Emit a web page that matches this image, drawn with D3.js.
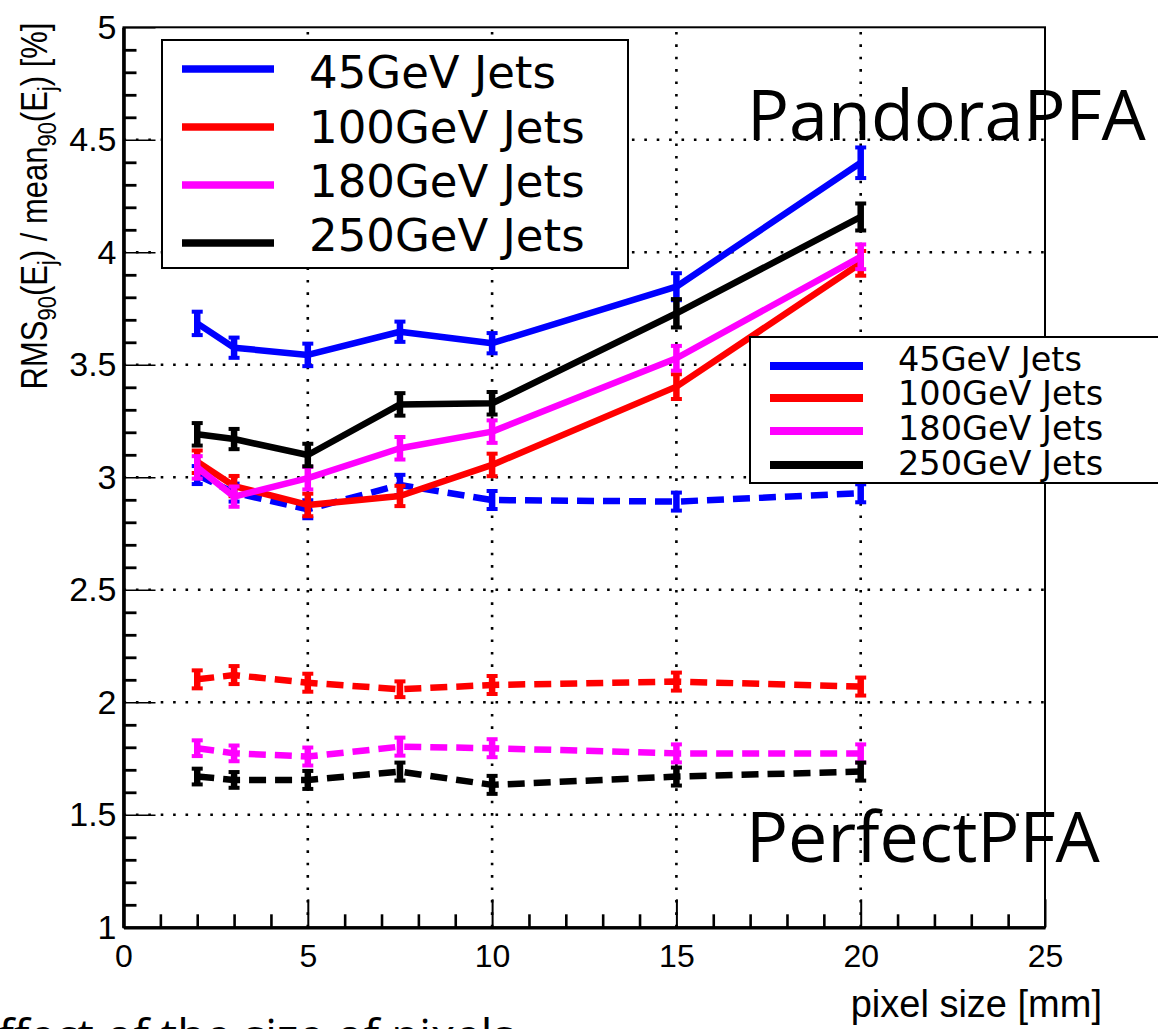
<!DOCTYPE html>
<html>
<head>
<meta charset="utf-8">
<script src="https://cdn.jsdelivr.net/npm/d3@7"></script>
<style>
  body { margin: 0; background: #fff; }
  svg { display: block; }
</style>
</head>
<body>
<svg id="chart" width="1158" height="1029"></svg>
<script>
// Jet energy resolution vs. pixel size, PandoraPFA (solid) and PerfectPFA (dashed)
const pixelSize = [2, 3, 5, 7.5, 10, 15, 20];

const pandora45  = [3.684, 3.576, 3.544, 3.647, 3.596, 3.847, 4.398];
const pandora100 = [3.069, 2.961, 2.877, 2.917, 3.055, 3.403, 3.951];
const pandora180 = [3.044, 2.914, 2.996, 3.129, 3.203, 3.529, 3.980];
const pandora250 = [3.191, 3.170, 3.099, 3.324, 3.329, 3.729, 4.157];

const pandoraErr45  = [0.052, 0.045, 0.050, 0.045, 0.045, 0.060, 0.068];
const pandoraErr100 = [0.050, 0.045, 0.050, 0.045, 0.050, 0.055, 0.055];
const pandoraErr180 = [0.050, 0.045, 0.050, 0.050, 0.050, 0.055, 0.055];
const pandoraErr250 = [0.050, 0.045, 0.050, 0.050, 0.050, 0.063, 0.060];

const perfect45  = [3.010, 2.932, 2.858, 2.966, 2.899, 2.892, 2.929];
const perfect100 = [2.102, 2.121, 2.087, 2.058, 2.077, 2.092, 2.070];
const perfect180 = [1.796, 1.773, 1.759, 1.803, 1.796, 1.773, 1.773];
const perfect250 = [1.670, 1.655, 1.655, 1.692, 1.633, 1.670, 1.692];

const perfectErr45  = [0.040, 0.040, 0.040, 0.045, 0.040, 0.040, 0.040];
const perfectErr100 = [0.040, 0.040, 0.040, 0.035, 0.040, 0.040, 0.040];
const perfectErr180 = [0.035, 0.035, 0.040, 0.040, 0.040, 0.040, 0.040];
const perfectErr250 = [0.035, 0.035, 0.040, 0.040, 0.040, 0.040, 0.040];

const legendLabels = ["45GeV Jets", "100GeV Jets", "180GeV Jets", "250GeV Jets"];
const seriesColors = ["#0000ff", "#ff0000", "#ff00ff", "#000000"];

const xMajor = [0, 5, 10, 15, 20, 25];
const xMinor = d3.range(1, 25).filter(v => v % 5 !== 0);
const yMajor = [1, 1.5, 2, 2.5, 3, 3.5, 4, 4.5, 5];
const yMinor = d3.range(11, 50).filter(v => v % 5 !== 0).map(v => v / 10);
const xGrid = [5, 10, 15, 20];
const yGrid = [1.5, 2, 2.5, 3, 3.5, 4, 4.5];

const svg = d3.select("#chart");
const x = d3.scaleLinear().domain([0, 25]).range([123.5, 1045]);
const y = d3.scaleLinear().domain([1, 5]).range([927.3, 27.3]);

const AXIS_FONT = "'Liberation Sans', Arial, sans-serif";

// dotted grid
const grid = svg.append("g").attr("stroke", "#000").attr("stroke-width", 2.6)
  .attr("stroke-dasharray", "2.6,9.8");
grid.selectAll("line.h").data(yGrid).join("line").attr("class", "h")
  .attr("x1", x(0)).attr("x2", x(25)).attr("y1", d => y(d)).attr("y2", d => y(d));
grid.selectAll("line.v").data(xGrid).join("line").attr("class", "v")
  .attr("y1", y(1)).attr("y2", y(5)).attr("x1", d => x(d)).attr("x2", d => x(d));

// frame
svg.append("rect")
  .attr("x", x(0)).attr("y", y(5))
  .attr("width", x(25) - x(0)).attr("height", y(1) - y(5))
  .attr("fill", "none").attr("stroke", "#000").attr("stroke-width", 2);

// y axis (ticks pointing inward)
const gy = svg.append("g").attr("transform", `translate(${x(0)},0)`)
  .call(d3.axisLeft(y).tickValues(yMajor).tickSize(-32).tickSizeOuter(0)
    .tickPadding(7).tickFormat(d3.format("~g")));
gy.attr("font-family", AXIS_FONT).attr("font-size", 34);
gy.select(".domain").attr("stroke-width", 3.6);
gy.selectAll(".tick line").attr("stroke-width", 1.6);
gy.selectAll(".tick text").attr("fill", "#000");

const gyMinor = svg.append("g").attr("transform", `translate(${x(0)},0)`)
  .call(d3.axisLeft(y).tickValues(yMinor).tickSize(-13).tickFormat(""));
gyMinor.select(".domain").remove();
gyMinor.selectAll(".tick line").attr("stroke-width", 2.8);

// x axis
const gx = svg.append("g").attr("transform", `translate(0,${y(1)})`)
  .call(d3.axisBottom(x).tickValues(xMajor).tickSize(-28).tickSizeOuter(0)
    .tickPadding(17).tickFormat(d3.format("~g")));
gx.attr("font-family", AXIS_FONT).attr("font-size", 32);
gx.select(".domain").attr("stroke-width", 3.2);
gx.selectAll(".tick line").attr("stroke-width", 2);
gx.selectAll(".tick text").attr("fill", "#000");

const gxMinor = svg.append("g").attr("transform", `translate(0,${y(1)})`)
  .call(d3.axisBottom(x).tickValues(xMinor).tickSize(-13).tickFormat(""));
gxMinor.select(".domain").remove();
gxMinor.selectAll(".tick line").attr("stroke-width", 2.6);

// axis titles
svg.append("text")
  .attr("x", 1102).attr("y", 1017)
  .attr("text-anchor", "end")
  .attr("font-family", AXIS_FONT).attr("font-size", 38)
  .text("pixel size [mm]");

const yTitle = svg.append("text")
  .attr("transform", "translate(47,206) rotate(-90) scale(1,1.18)")
  .attr("text-anchor", "middle")
  .attr("font-family", AXIS_FONT).attr("font-size", 31);
const titleParts = [
  ["RMS", 0], ["90", 1], ["(E", 0], ["j", 1], [") / mean", 0],
  ["90", 1], ["(E", 0], ["j", 1], [") [%]", 0]
];
let lowered = false;
titleParts.forEach(([t, sub]) => {
  const span = yTitle.append("tspan").text(t);
  if (sub && !lowered) { span.attr("dy", 8).attr("font-size", 22); lowered = true; }
  else if (sub) { span.attr("font-size", 22); }
  else if (lowered) { span.attr("dy", -8); lowered = false; }
});

// series
const line = d3.line().x((d, i) => x(pixelSize[i])).y(d => y(d));

function drawSeries(values, errors, color, dashed) {
  const g = svg.append("g");
  g.append("path").datum(values)
    .attr("d", line)
    .attr("fill", "none").attr("stroke", color)
    .attr("stroke-width", 6.5)
    .attr("stroke-linejoin", "round")
    .attr("stroke-dasharray", dashed ? "17,9" : null);
  const pts = values.map((v, i) => ({ xv: pixelSize[i], v, e: errors[i] }));
  g.selectAll("line.bar").data(pts).join("line").attr("class", "bar")
    .attr("x1", d => x(d.xv)).attr("x2", d => x(d.xv))
    .attr("y1", d => y(d.v - d.e)).attr("y2", d => y(d.v + d.e))
    .attr("stroke", color).attr("stroke-width", 6.5);
  ["lo", "hi"].forEach(k => {
    g.selectAll("line.cap" + k).data(pts).join("line").attr("class", "cap" + k)
      .attr("x1", d => x(d.xv) - 5.5).attr("x2", d => x(d.xv) + 5.5)
      .attr("y1", d => y(k === "lo" ? d.v - d.e : d.v + d.e))
      .attr("y2", d => y(k === "lo" ? d.v - d.e : d.v + d.e))
      .attr("stroke", color).attr("stroke-width", 4);
  });
}

const perfectSeries = [perfect45, perfect100, perfect180, perfect250];
const perfectErrs = [perfectErr45, perfectErr100, perfectErr180, perfectErr250];
const pandoraSeries = [pandora45, pandora100, pandora180, pandora250];
const pandoraErrs = [pandoraErr45, pandoraErr100, pandoraErr180, pandoraErr250];

perfectSeries.forEach((s, i) => drawSeries(s, perfectErrs[i], seriesColors[i], true));
pandoraSeries.forEach((s, i) => drawSeries(s, pandoraErrs[i], seriesColors[i], false));

// legends
const LEGEND_FONT = "'DejaVu Sans', sans-serif";
function drawLegend(box, lineX, lineY, lineW, textX, textY, fontSize) {
  const g = svg.append("g");
  g.append("rect")
    .attr("x", box.x).attr("y", box.y).attr("width", box.w).attr("height", box.h)
    .attr("fill", "#fff").attr("stroke", "#000").attr("stroke-width", 2);
  legendLabels.forEach((lab, i) => {
    g.append("line")
      .attr("x1", lineX[0]).attr("x2", lineX[1])
      .attr("y1", lineY[i]).attr("y2", lineY[i])
      .attr("stroke", seriesColors[i]).attr("stroke-width", lineW);
    g.append("text")
      .attr("x", textX).attr("y", textY[i])
      .attr("font-family", LEGEND_FONT).attr("font-size", fontSize)
      .attr("fill", "#000")
      .text(lab);
  });
}
drawLegend({ x: 162, y: 40, w: 466, h: 228 }, [182, 274], [69, 127, 185, 243], 7.5,
  309, [88, 143, 197, 251], 45);
drawLegend({ x: 750, y: 337, w: 420, h: 146 }, [770, 863], [366, 398, 431, 465], 8,
  898, [371, 405, 440, 475], 33.5);

// algorithm labels
const LABEL_FONT = "'Open Sans', sans-serif";
svg.append("text").attr("x", 747).attr("y", 140)
  .attr("font-family", LABEL_FONT).attr("font-size", 70).attr("fill", "#000")
  .text("PandoraPFA");
svg.append("text").attr("x", 746).attr("y", 862)
  .attr("font-family", LABEL_FONT).attr("font-size", 70).attr("fill", "#000")
  .text("PerfectPFA");

// caption line running off the bottom edge
svg.append("text").attr("x", -27).attr("y", 1052)
  .attr("font-family", LABEL_FONT).attr("font-size", 46).attr("fill", "#000")
  .text("Effect of the size of pixels");
</script>
</body>
</html>
